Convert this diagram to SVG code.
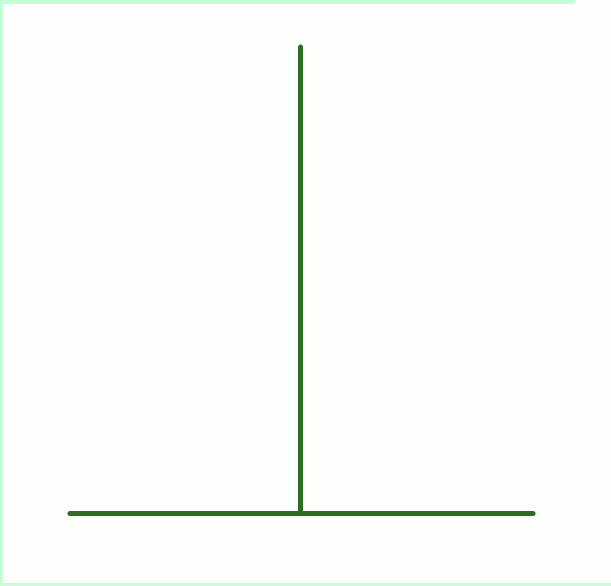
<svg xmlns="http://www.w3.org/2000/svg" width="611" height="586" viewBox="0 0 611 586">
<style>
.ln{stroke:#2b6e1e;stroke-width:5;stroke-linecap:round;fill:none}
</style>
<rect x="0" y="0" width="611" height="586" fill="#c6fcd6"/>
<rect x="3" y="4" width="608" height="579" fill="#fcfffc"/>
<rect x="575" y="0" width="36" height="4" fill="#fcfffc"/>
<g id="connectors">
<line id="vertical" class="ln" x1="300.5" y1="47" x2="300.5" y2="513"/>
<line id="horizontal" class="ln" x1="70" y1="513.5" x2="533" y2="513.5"/>
</g>
</svg>
